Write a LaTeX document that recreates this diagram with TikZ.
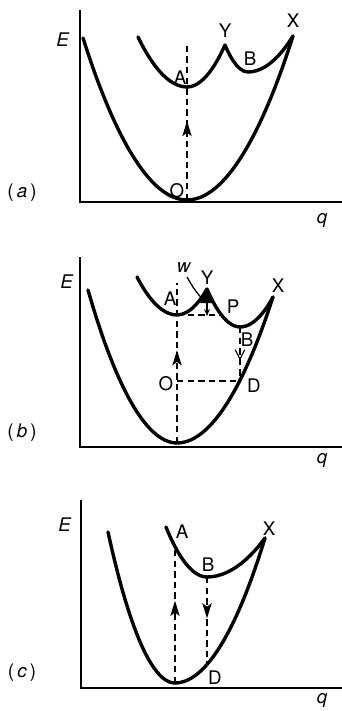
\documentclass[tikz,border=0pt]{standalone}
\usepackage{fontspec}
\setmainfont{TeX Gyre Heros}
\usetikzlibrary{arrows.meta,decorations.markings}

\begin{document}
\begin{tikzpicture}[x=0.03cm,y=-0.03cm,font=\fontsize{16}{18}\selectfont,
  curve/.style={line width=2.9pt,line cap=round,line join=round},
  axis/.style={line width=1.7pt},
  guide/.style={line width=1pt,dash pattern=on 5.5pt off 3.5pt},
  tipat/.style={postaction={decorate},decoration={markings,
      mark=at position #1 with {\arrow{Stealth[length=13pt,width=8pt,inset=3pt]}}}}]
  \useasboundingbox (0,0) rectangle (342,711);
  % panel (a)
  \draw[axis] (80,10) -- (80,202) -- (342,202);
  \node (Ea) at (63,40) {\textit{E}};
  \node (qa) at (322,220) {\textit{q}};
  \node (pa) at (22,193) {(\,\textit{a}\,)};
  \coordinate (Oa) at (187,200);
  \coordinate (Aa) at (187,87);
  \coordinate (Ya) at (225,45);
  \coordinate (Ba) at (248,72);
  \coordinate (Xa) at (293,36);
  \coordinate (Ta) at (187,42);
  \draw[curve] (83,38) parabola bend (Oa) (Xa);
  \draw[curve] (138,37) parabola bend (Aa) (Ya) parabola bend (Ba) (Xa);
  \draw[guide,tipat=0.5] (Oa) -- (Ta);
  \node (lAa) at (180,78) {A};
  \node (lOa) at (177,191) {O};
  \node (lYa) at (225,31) {Y};
  \node (lBa) at (250,59) {B};
  \node (lXa) at (293,21) {X};
  % panel (b)
  \draw[axis] (80,257) -- (80,447) -- (342,447);
  \node (Eb) at (67,282) {\textit{E}};
  \node (qb) at (322,460) {\textit{q}};
  \node (pb) at (22,433) {(\,\textit{b}\,)};
  \coordinate (Ob) at (177,443);
  \coordinate (Ab) at (177,315);
  \coordinate (Yb) at (207,289);
  \coordinate (Bb) at (240,327);
  \coordinate (Xb) at (273,297);
  \coordinate (Db) at (240,381);
  \coordinate (Mb) at (177,381);
  \coordinate (Pb) at (220,315);
  \coordinate (Tb) at (177,283);
  \coordinate (Wb) at (187,277);
  \draw[curve] (88,290) parabola bend (Ob) (Xb);
  \draw[curve] (137,277) parabola bend (Ab) (Yb) parabola bend (Bb) (Xb);
  % crossing near Y
  \draw[line width=1.1pt] (Wb) .. controls (194,289) .. (203,300);
  \fill (Yb) .. controls (205,295) .. (200,303) -- (214,303) .. controls (209,295) .. (Yb);
  \draw[line width=0.9pt,-{Stealth[length=6pt,width=5pt]}] (207,302) -- (207,316);
  \draw[guide,tipat=0.58] (Ob) -- (Tb);
  \draw[guide] (Ab) -- (Pb);
  \draw[guide] (Mb) -- (Db);
  \draw[guide,postaction={decorate},decoration={markings,
      mark=at position 0.62 with {\arrow{Straight Barb[length=8pt,width=8pt]}}}] (Bb) -- (Db);
  \node (lAb) at (170,299) {A};
  \node (lwb) at (184,268) {\textit{w}};
  \node (lYb) at (207,278) {Y};
  \node (lPb) at (233,307) {P};
  \node (lXb) at (278,286) {X};
  \node (lBb) at (247,340) {B};
  \node (lOb) at (166,384) {O};
  \node (lDb) at (254,386) {D};
  % panel (c)
  \draw[axis] (81,500) -- (81,688) -- (342,688);
  \node (Ec) at (65,525) {\textit{E}};
  \node (qc) at (322,700) {\textit{q}};
  \node (pc) at (22,673) {(\,\textit{c}\,)};
  \coordinate (Oc) at (175,683);
  \coordinate (Bc) at (207,577);
  \coordinate (Xc) at (265,538);
  \coordinate (Dc) at (207,665);
  \coordinate (Tc) at (175,546);
  \draw[curve] (108,532) parabola bend (Oc) (Xc);
  \draw[curve] (166,527) parabola bend (Bc) (Xc);
  \draw[guide,tipat=0.6] (Oc) -- (Tc);
  \draw[guide,tipat=0.47] (Bc) -- (Dc);
  \node (lAc) at (182,532) {A};
  \node (lBc) at (208,565) {B};
  \node (lXc) at (269,529) {X};
  \node (lDc) at (215,678) {D};
\end{tikzpicture}
\end{document}
